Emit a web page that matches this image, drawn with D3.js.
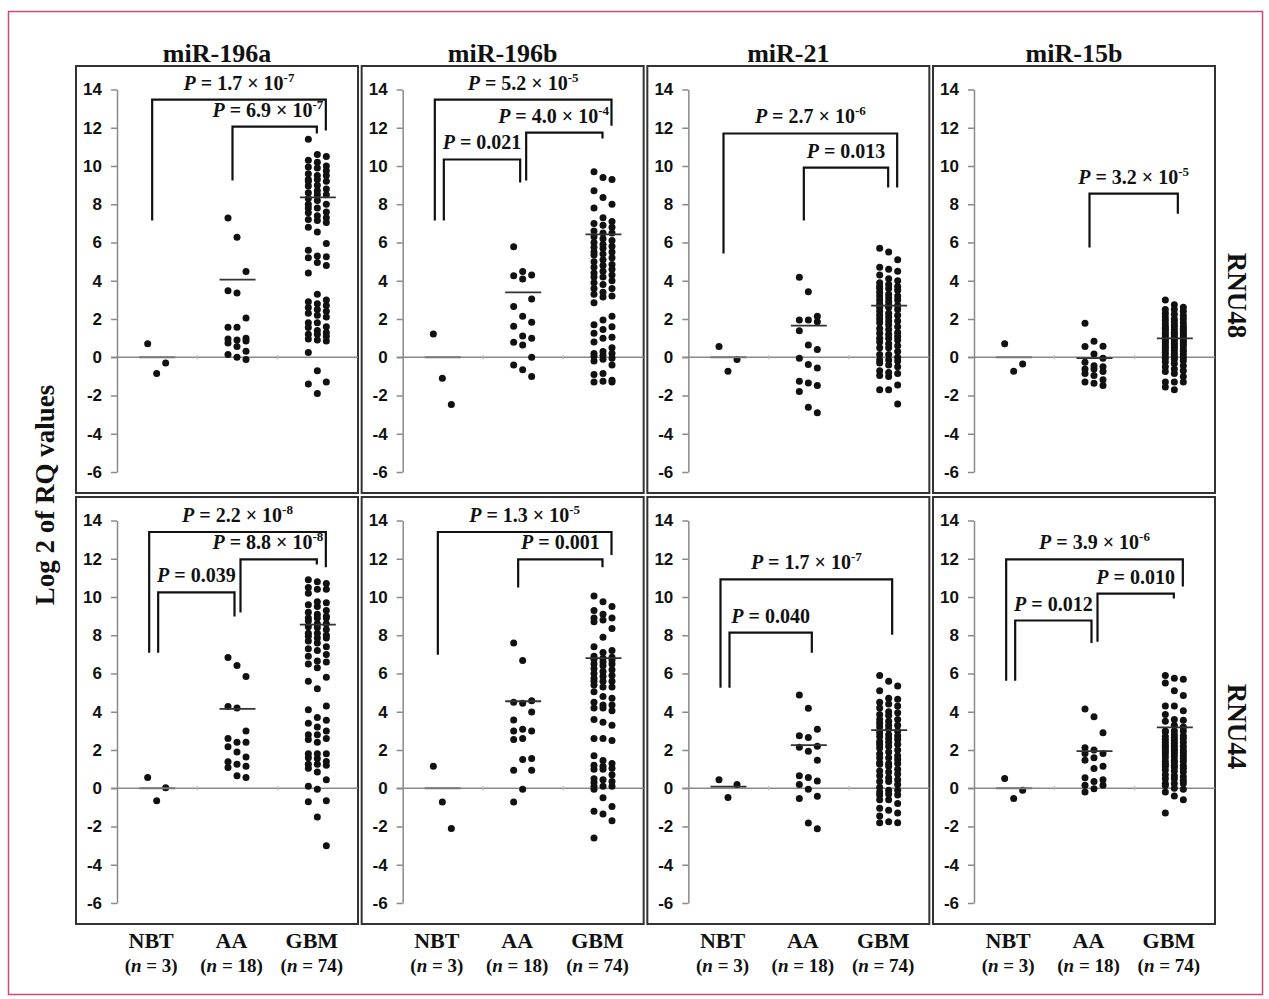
<!DOCTYPE html>
<html>
<head>
<meta charset="utf-8">
<script src="https://cdn.jsdelivr.net/npm/d3@7"></script>
<style>
  body { margin: 0; background: #fff; }
  svg text { font-family: "Liberation Serif", "Times New Roman", serif; fill: #111; }
</style>
</head>
<body>
<svg id="chart" width="1269" height="999"></svg>
<script>
// categories and labels
const groups = ["NBT", "AA", "GBM"];
const groupN = [3, 18, 74];
const genes = ["miR-196a", "miR-196b", "miR-21", "miR-15b"];
const refs = ["RNU48", "RNU44"];
const yTicks = [14, 12, 10, 8, 6, 4, 2, 0, -2, -4, -6];

// log2 RQ values, one array per group: [NBT, AA, GBM]
const miR196a_RNU48 = [
  [0.7, -0.85, -0.3],
  [7.28, 6.27, 4.49, 3.48, 3.36, 2.05, 1.57, 1.57, 1.0, 0.95, 0.9, 0.85, 0.75, 0.56, 0.31, 0.15, 0.0, -0.12],
  [11.4, 10.6, 10.5, 10.3, 10.2, 10.0, 9.95, 9.9, 9.75, 9.6, 9.5, 9.5, 9.3, 9.3, 9.2, 9.2, 9.0, 8.95, 8.8, 8.7,
   8.6, 8.5, 8.5, 8.3, 8.2, 8.0, 8.0, 7.8, 7.8, 7.6, 7.55, 7.4, 7.3, 7.2, 7.15, 7.05, 6.8, 6.55, 5.95, 5.6,
   5.3, 5.25, 5.2, 4.95, 4.8, 4.4, 3.3, 3.0, 2.9, 2.8, 2.7, 2.6, 2.5, 2.4, 2.3, 2.2, 2.1, 1.8, 1.8, 1.6,
   1.55, 1.4, 1.3, 1.2, 1.2, 1.1, 0.95, 0.9, 0.85, 0.25, -0.7, -1.3, -1.4, -1.9]
];
const miR196b_RNU48 = [
  [1.22, -1.1, -2.47],
  [5.78, 4.49, 4.3, 4.26, 4.09, 3.05, 2.66, 2.14, 1.83, 1.62, 1.11, 1.0, 0.78, 0.64, 0.0, -0.4, -0.66, -1.0],
  [9.7, 9.4, 9.3, 8.7, 8.35, 8.0, 7.8, 7.3, 7.1, 7.0, 6.9, 6.8, 6.6, 6.5, 6.5, 6.3, 6.2, 6.1, 6.0, 5.9,
   5.8, 5.75, 5.7, 5.5, 5.5, 5.4, 5.35, 5.2, 5.1, 5.0, 4.85, 4.8, 4.7, 4.6, 4.5, 4.4, 4.3, 4.2, 4.2, 4.0,
   3.9, 3.8, 3.6, 3.6, 3.4, 3.3, 3.2, 3.15, 2.85, 2.15, 1.95, 1.7, 1.6, 1.45, 1.25, 1.05, 1.0, 0.8, 0.5, 0.3,
   0.2, 0.2, 0.1, 0.05, -0.05, -0.1, -0.2, -0.4, -0.85, -0.9, -1.2, -1.25, -1.3, -1.3]
];
const miR21_RNU48 = [
  [0.56, -0.73, -0.12],
  [4.18, 3.43, 2.14, 1.95, 1.95, 1.85, 1.39, 0.64, 0.4, -0.05, -0.38, -0.56, -1.25, -1.34, -1.48, -1.79, -2.61, -2.9],
  [5.7, 5.5, 5.1, 4.7, 4.6, 4.5, 4.3, 4.1, 4.0, 3.9, 3.8, 3.7, 3.7, 3.6, 3.6, 3.5, 3.4, 3.3, 3.2, 3.2,
   3.1, 3.0, 3.0, 2.9, 2.8, 2.7, 2.7, 2.6, 2.6, 2.5, 2.4, 2.3, 2.2, 2.2, 2.1, 2.0, 1.9, 1.9, 1.8, 1.7,
   1.6, 1.5, 1.45, 1.3, 1.25, 1.2, 1.1, 1.0, 1.0, 0.9, 0.8, 0.7, 0.6, 0.5, 0.5, 0.3, 0.15, 0.15, 0.0, -0.15,
   -0.15, -0.2, -0.3, -0.4, -0.5, -0.7, -0.8, -0.85, -0.95, -1.0, -1.45, -1.7, -1.7, -2.45]
];
const miR15b_RNU48 = [
  [0.7, -0.73, -0.35],
  [1.78, 0.84, 0.57, 0.56, 0.17, -0.05, -0.26, -0.44, -0.5, -0.61, -0.61, -0.75, -0.85, -0.96, -1.17, -1.3, -1.36, -1.48],
  [3.0, 2.75, 2.62, 2.5, 2.5, 2.41, 2.3, 2.25, 2.18, 2.1, 2.0, 2.0, 1.93, 1.85, 1.8, 1.75, 1.71, 1.63, 1.6, 1.6,
   1.52, 1.5, 1.45, 1.4, 1.38, 1.3, 1.27, 1.25, 1.2, 1.17, 1.12, 1.05, 1.05, 1.0, 0.97, 0.92, 0.85, 0.85, 0.8, 0.78,
   0.72, 0.7, 0.64, 0.6, 0.6, 0.52, 0.5, 0.43, 0.4, 0.35, 0.31, 0.25, 0.2, 0.15, 0.12, 0.05, -0.02, -0.05, -0.1, -0.18,
   -0.25, -0.33, -0.45, -0.5, -0.62, -0.7, -0.75, -0.85, -1.0, -1.3, -1.3, -1.3, -1.55, -1.7]
];
const miR196a_RNU44 = [
  [0.56, -0.66, 0.03],
  [6.84, 6.42, 5.84, 4.27, 4.2, 3.0, 2.6, 2.4, 2.4, 2.17, 1.9, 1.64, 1.38, 1.26, 1.15, 1.08, 0.65, 0.56],
  [10.9, 10.8, 10.7, 10.5, 10.4, 10.4, 10.2, 9.75, 9.7, 9.6, 9.5, 9.3, 9.2, 9.1, 9.0, 8.9, 8.9, 8.9, 8.75, 8.6,
   8.6, 8.45, 8.4, 8.3, 8.1, 8.1, 8.0, 7.95, 7.85, 7.85, 7.7, 7.6, 7.4, 7.3, 7.2, 7.0, 6.9, 6.65, 6.6, 6.5,
   6.3, 5.8, 5.6, 5.2, 4.3, 4.1, 3.7, 3.55, 3.4, 3.2, 3.0, 2.8, 2.8, 2.6, 2.55, 2.4, 1.8, 1.8, 1.8, 1.6,
   1.55, 1.4, 1.25, 1.25, 1.2, 1.05, 0.85, 0.45, 0.1, -0.05, -0.65, -0.7, -1.5, -3.0]
];
const miR196b_RNU44 = [
  [1.15, -0.72, -2.1],
  [7.59, 6.68, 4.58, 4.5, 4.44, 3.99, 3.57, 3.08, 3.0, 3.0, 2.6, 2.55, 1.56, 1.5, 0.94, 0.94, -0.05, -0.72],
  [10.05, 9.75, 9.5, 9.3, 9.1, 8.9, 8.9, 8.8, 8.7, 8.35, 7.9, 7.4, 7.2, 7.1, 6.9, 6.85, 6.8, 6.75, 6.7, 6.6,
   6.5, 6.5, 6.4, 6.25, 6.2, 6.1, 6.0, 5.9, 5.85, 5.75, 5.6, 5.6, 5.6, 5.4, 5.3, 5.3, 5.05, 4.8, 4.7, 4.5,
   4.35, 4.35, 4.2, 4.2, 4.05, 3.6, 3.45, 3.3, 2.6, 2.6, 2.5, 1.7, 1.45, 1.3, 1.2, 1.15, 1.05, 1.0, 1.0, 0.7,
   0.5, 0.45, 0.35, 0.3, 0.1, 0.1, 0.1, -0.05, -0.5, -0.95, -1.2, -1.35, -1.7, -2.6]
];
const miR21_RNU44 = [
  [0.45, -0.49, 0.19],
  [4.88, 4.18, 3.08, 2.75, 2.66, 2.2, 2.15, 1.94, 1.47, 0.65, 0.56, 0.38, 0.2, -0.05, -0.42, -0.54, -1.82, -2.12],
  [5.9, 5.6, 5.35, 5.1, 4.7, 4.65, 4.5, 4.4, 4.3, 4.2, 4.0, 3.95, 3.85, 3.8, 3.6, 3.6, 3.5, 3.4, 3.3, 3.3,
   3.2, 3.1, 3.0, 2.9, 2.8, 2.75, 2.7, 2.6, 2.55, 2.45, 2.4, 2.3, 2.3, 2.2, 2.1, 2.0, 1.9, 1.8, 1.7, 1.6,
   1.6, 1.5, 1.35, 1.3, 1.3, 1.25, 1.15, 1.0, 0.9, 0.85, 0.75, 0.65, 0.55, 0.45, 0.35, 0.35, 0.2, 0.05, -0.1, -0.1,
   -0.2, -0.3, -0.35, -0.35, -0.6, -0.6, -0.8, -1.05, -1.15, -1.3, -1.45, -1.75, -1.8, -1.8]
];
const miR15b_RNU44 = [
  [0.51, -0.54, -0.1],
  [4.15, 3.74, 2.9, 2.12, 2.0, 1.82, 1.82, 1.6, 1.47, 1.15, 1.03, 0.55, 0.45, 0.35, 0.16, 0.16, -0.02, -0.19],
  [5.9, 5.75, 5.7, 5.5, 5.1, 4.85, 4.3, 4.3, 4.05, 3.85, 3.6, 3.55, 3.5, 3.3, 3.2, 3.0, 3.0, 3.0, 2.95, 2.8,
   2.75, 2.7, 2.65, 2.6, 2.55, 2.5, 2.4, 2.4, 2.35, 2.25, 2.2, 2.2, 2.15, 2.05, 2.0, 2.0, 1.95, 1.9, 1.85, 1.8,
   1.75, 1.7, 1.65, 1.6, 1.55, 1.45, 1.4, 1.4, 1.35, 1.25, 1.2, 1.2, 1.15, 1.1, 1.05, 0.95, 0.9, 0.85, 0.7, 0.65,
   0.6, 0.5, 0.5, 0.4, 0.25, 0.25, 0.25, 0.15, 0.0, -0.05, -0.2, -0.4, -0.6, -1.3]
];

// group mean lines [NBT, AA, GBM]
const means196a_48 = [0, 4.06, 8.36];
const means196b_48 = [0, 3.39, 6.42];
const means21_48 = [0, 1.65, 2.7];
const means15b_48 = [0, -0.05, 0.99];
const means196a_44 = [0, 4.15, 8.56];
const means196b_44 = [0, 4.55, 6.8];
const means21_44 = [0.08, 2.26, 3.04];
const means15b_44 = [0, 1.94, 3.18];

// significance brackets: top of bar and leg ends in log2 RQ units
const brackets196a_48 = [
  { from: "NBT", to: "GBM", top: 13.47, left: 7.15, right: 11.85, p: "1.7 × 10^-7" },
  { from: "AA", to: "GBM", top: 12.06, left: 9.24, right: 11.7, p: "6.9 × 10^-7" }
];
const brackets196b_48 = [
  { from: "NBT", to: "GBM", top: 13.47, left: 7.15, right: 12.1, p: "5.2 × 10^-5" },
  { from: "NBT", to: "AA", top: 10.34, left: 7.15, right: 9.14, p: "0.021" },
  { from: "AA", to: "GBM", top: 11.75, left: 9.24, right: 11.44, p: "4.0 × 10^-4" }
];
const brackets21_48 = [
  { from: "NBT", to: "GBM", top: 11.7, left: 5.43, right: 8.88, p: "2.7 × 10^-6" },
  { from: "AA", to: "GBM", top: 9.92, left: 7.15, right: 8.88, p: "0.013" }
];
const brackets15b_48 = [
  { from: "AA", to: "GBM", top: 8.56, left: 5.74, right: 7.5, p: "3.2 × 10^-5" }
];
const brackets196a_44 = [
  { from: "NBT", to: "GBM", top: 13.4, left: 7.09, right: 11.55, p: "2.2 × 10^-8" },
  { from: "NBT", to: "AA", top: 10.24, left: 7.09, right: 8.98, p: "0.039" },
  { from: "AA", to: "GBM", top: 11.97, left: 9.19, right: 11.7, p: "8.8 × 10^-8" }
];
const brackets196b_44 = [
  { from: "NBT", to: "GBM", top: 13.4, left: 6.98, right: 12.2, p: "1.3 × 10^-5" },
  { from: "AA", to: "GBM", top: 11.97, left: 10.5, right: 11.55, p: "0.001" }
];
const brackets21_44 = [
  { from: "NBT", to: "GBM", top: 10.92, left: 5.25, right: 8.03, p: "1.7 × 10^-7" },
  { from: "NBT", to: "AA", top: 8.14, left: 5.25, right: 7.09, p: "0.040" }
];
const brackets15b_44 = [
  { from: "NBT", to: "GBM", top: 11.97, left: 5.62, right: 10.55, p: "3.9 × 10^-6" },
  { from: "NBT", to: "AA", top: 8.77, left: 5.62, right: 7.6, p: "0.012" },
  { from: "AA", to: "GBM", top: 10.18, left: 7.66, right: 9.92, p: "0.010" }
];

const panels = [
  { col: 0, row: 0, values: miR196a_RNU48, means: means196a_48, brackets: brackets196a_48 },
  { col: 1, row: 0, values: miR196b_RNU48, means: means196b_48, brackets: brackets196b_48 },
  { col: 2, row: 0, values: miR21_RNU48, means: means21_48, brackets: brackets21_48 },
  { col: 3, row: 0, values: miR15b_RNU48, means: means15b_48, brackets: brackets15b_48 },
  { col: 0, row: 1, values: miR196a_RNU44, means: means196a_44, brackets: brackets196a_44 },
  { col: 1, row: 1, values: miR196b_RNU44, means: means196b_44, brackets: brackets196b_44 },
  { col: 2, row: 1, values: miR21_RNU44, means: means21_44, brackets: brackets21_44 },
  { col: 3, row: 1, values: miR15b_RNU44, means: means15b_44, brackets: brackets15b_44 }
];

const svg = d3.select("#chart");

// layout
const panelW = 282, panelH = 427;
const colX = d3.scaleLinear().domain([0, 3]).range([76, 933]);
const rowY = d3.scaleLinear().domain([0, 1]).range([66, 497]);
const axisInset = 41;
const dotR = 3.5, colStep = 9, meanHalf = 18;

// pink frame round the figure
svg.append("rect")
  .attr("x", 8.5).attr("y", 11.5).attr("width", 1254).attr("height", 983)
  .attr("fill", "none").attr("stroke", "#c94a76").attr("stroke-width", 1.5);

// place dots in three columns, each dot going to the column with the most room
function dodge(values, y, cx) {
  const cols = [-1, 0, 1];
  const placed = cols.map(() => []);
  return values.map(v => {
    const py = y(v);
    let best = 0, bestGap = -1;
    cols.forEach((c, i) => {
      const gap = placed[i].length ? d3.min(placed[i], q => Math.abs(q - py)) : Infinity;
      if (gap > bestGap) { bestGap = gap; best = i; }
    });
    placed[best].push(py);
    return { x: cx + cols[best] * colStep - 0.5, y: py };
  });
}

// horizontal nudge of a bracket leg so legs meeting at one group do not overlap
function legOffset(b, side, list) {
  const g = side === "L" ? b.from : b.to;
  const span = o => groups.indexOf(o.to) - groups.indexOf(o.from);
  const ends = [];
  list.forEach(o => {
    if (o.from === g) ends.push({ o, side: "L" });
    if (o.to === g) ends.push({ o, side: "R" });
  });
  if (ends.length === 1) return side === "L" ? -5 : 3;
  const other = ends.find(e => e.o !== b);
  if (other.side !== side) return side === "R" ? -3 : 3;
  const outer = span(b) > span(other.o);
  if (side === "L") return outer ? -8 : 1;
  return outer ? 8 : -1;
}

function pLabel(sel, x, y, p) {
  const t = sel.append("text")
    .attr("x", x).attr("y", y)
    .attr("text-anchor", "middle")
    .attr("font-size", 20).attr("font-weight", "bold");
  t.append("tspan").attr("font-style", "italic").text("P");
  const parts = p.split("^");
  t.append("tspan").text(" = " + parts[0]);
  if (parts[1]) t.append("tspan").attr("dy", -8).attr("font-size", 13).text(parts[1]);
  return t;
}

panels.forEach(pn => {
  const x0 = colX(pn.col), y0 = rowY(pn.row);
  const g = svg.append("g");

  const x = d3.scaleBand().domain(groups).range([x0 + axisInset, x0 + panelW]);
  const y = d3.scaleLinear().domain([-6, 14]).range([y0 + 406, y0 + 23.5]);
  const cx = d => x(d) + x.bandwidth() / 2;

  // panel frame
  g.append("rect")
    .attr("x", x0).attr("y", y0).attr("width", panelW).attr("height", panelH)
    .attr("fill", "none").attr("stroke", "#333").attr("stroke-width", 2);

  // zero line with small category ticks
  g.append("line")
    .attr("x1", x0 + axisInset - 6).attr("x2", x0 + panelW)
    .attr("y1", y(0)).attr("y2", y(0))
    .attr("stroke", "#8a8a8a").attr("stroke-width", 1.5);
  g.selectAll(".xtick").data(groups.slice(1)).enter().append("line")
    .attr("x1", d => x(d)).attr("x2", d => x(d))
    .attr("y1", y(0) - 2).attr("y2", y(0) + 2)
    .attr("stroke", "#bbb").attr("stroke-width", 1.5);

  // y axis
  const ax = g.append("g")
    .attr("transform", `translate(${x0 + axisInset},0)`)
    .call(d3.axisLeft(y).tickValues(yTicks).tickFormat(d => String(d))
      .tickSize(6).tickSizeOuter(0).tickPadding(9));
  ax.selectAll("path, line").attr("stroke", "#8a8a8a").attr("stroke-width", 1.5);
  ax.selectAll("text")
    .style("font-family", "'Liberation Sans', Arial, sans-serif")
    .attr("font-size", 17).attr("font-weight", "bold").attr("fill", "#111");

  // dots
  groups.forEach((grp, gi) => {
    const pts = dodge(pn.values[gi], y, cx(grp));
    g.selectAll(null).data(pts).enter().append("circle")
      .attr("cx", d => d.x).attr("cy", d => d.y).attr("r", dotR)
      .attr("fill", "#111");
  });

  // mean lines
  g.selectAll(null).data(groups).enter().append("line")
    .attr("x1", d => cx(d) - meanHalf).attr("x2", d => cx(d) + meanHalf)
    .attr("y1", (d, i) => y(pn.means[i])).attr("y2", (d, i) => y(pn.means[i]))
    .attr("stroke", (d, i) => pn.means[i] === 0 ? "#777" : "#333")
    .attr("stroke-width", 1.8);

  // brackets
  const geo = pn.brackets.map(b => ({
    b,
    xl: cx(b.from) + legOffset(b, "L", pn.brackets),
    xr: cx(b.to) + legOffset(b, "R", pn.brackets)
  }));
  geo.forEach(k => {
    g.append("path")
      .attr("d", `M${k.xl},${y(k.b.left)}V${y(k.b.top)}H${k.xr}V${y(k.b.right)}`)
      .attr("fill", "none").attr("stroke", "#111").attr("stroke-width", 2.2);
    const t = pLabel(g, (k.xl + k.xr) / 2, y(k.b.top) - 10, k.b.p);
    // keep the label inside any bracket that encloses this one
    const enc = geo.filter(o => o !== k && o.b.top > k.b.top && o.xl <= k.xl && o.xr >= k.xr);
    if (enc.length) {
      const bb = t.node().getBBox();
      const lim = d3.min(enc, o => o.xr) - 2;
      if (bb.x + bb.width > lim) t.attr("x", (k.xl + k.xr) / 2 - (bb.x + bb.width - lim));
    }
  });
});

// column titles
svg.selectAll(".title").data(genes).enter().append("text")
  .attr("x", (d, i) => colX(i) + panelW / 2).attr("y", 62)
  .attr("text-anchor", "middle").attr("font-size", 26).attr("font-weight", "bold")
  .text(d => d);

// category labels under the bottom row
genes.forEach((gname, ci) => {
  const x0 = colX(ci);
  const x = d3.scaleBand().domain(groups).range([x0 + axisInset, x0 + panelW]);
  groups.forEach((grp, gi) => {
    const gx = x(grp) + x.bandwidth() / 2 - 6;
    svg.append("text").attr("x", gx).attr("y", 948)
      .attr("text-anchor", "middle").attr("font-size", 22).attr("font-weight", "bold")
      .text(grp);
    const t = svg.append("text").attr("x", gx).attr("y", 972)
      .attr("text-anchor", "middle").attr("font-size", 19).attr("font-weight", "bold");
    t.append("tspan").text("(");
    t.append("tspan").attr("font-style", "italic").text("n");
    t.append("tspan").text(` = ${groupN[gi]})`);
  });
});

// y title
svg.append("text")
  .attr("transform", "translate(54,495) rotate(-90)")
  .attr("text-anchor", "middle").attr("font-size", 27).attr("font-weight", "bold")
  .text("Log 2 of RQ values");

// reference gene labels on the right
refs.forEach((r, ri) => {
  const cy = rowY(ri) + panelH / 2 + 16;
  svg.append("text")
    .attr("transform", `translate(1228,${cy}) rotate(90)`)
    .attr("text-anchor", "middle").attr("font-size", 27).attr("font-weight", "bold")
    .text(r);
});
</script>
</body>
</html>
